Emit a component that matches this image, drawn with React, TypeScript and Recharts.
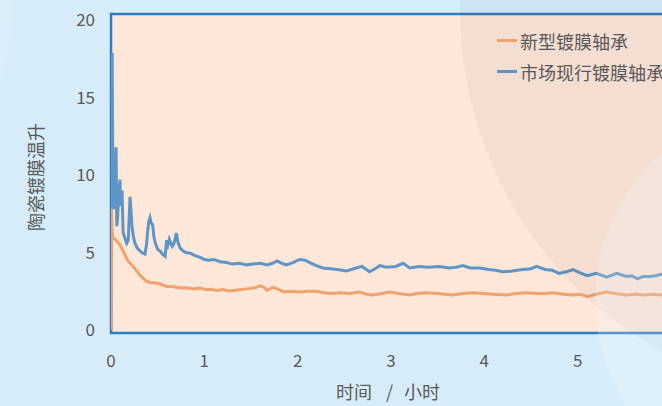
import { LineChart, Line, XAxis, YAxis, ReferenceArea } from 'recharts'

// time in hours, temperature rise per bearing
const seriesNames = ['新型镀膜轴承', '市场现行镀膜轴承']
const seriesColors = ['#f2a26c', '#5f95c6']

const newTime = [
  0, 0.006, 0.012, 0.02, 0.03, 0.043, 0.06, 0.075, 0.096, 0.11, 0.13, 0.15, 0.168, 0.19, 0.22, 0.25,
  0.275, 0.31, 0.35, 0.38, 0.42, 0.46, 0.51, 0.55, 0.6, 0.65, 0.7, 0.75, 0.81, 0.88, 0.95, 1.02,
  1.08, 1.13, 1.2, 1.26, 1.31, 1.38, 1.45, 1.53, 1.6, 1.64, 1.67, 1.7, 1.74, 1.8, 1.85, 1.93, 2.02,
  2.1, 2.2, 2.28, 2.38, 2.45, 2.56, 2.66, 2.74, 2.8, 2.9, 2.98, 3.08, 3.2, 3.28, 3.38, 3.5, 3.58,
  3.66, 3.77, 3.88, 3.98, 4.1, 4.23, 4.34, 4.45, 4.56, 4.65, 4.73, 4.85, 4.95, 5.03, 5.1, 5.2, 5.31,
  5.4, 5.52, 5.62, 5.72, 5.82, 5.9, 6.0,
]
const newTemp = [
  0, 7.8, 6.4, 6.0, 5.9, 5.85, 5.75, 5.65, 5.5, 5.3, 5.1, 4.85, 4.6, 4.4, 4.2, 4.0,
  3.8, 3.55, 3.3, 3.15, 3.05, 3.05, 3.0, 2.9, 2.8, 2.8, 2.75, 2.7, 2.72, 2.65, 2.7, 2.6,
  2.62, 2.55, 2.6, 2.52, 2.55, 2.6, 2.65, 2.7, 2.85, 2.75, 2.55, 2.65, 2.75, 2.6, 2.45, 2.5, 2.45,
  2.5, 2.5, 2.4, 2.35, 2.4, 2.35, 2.45, 2.3, 2.25, 2.35, 2.45, 2.35, 2.25, 2.35, 2.4, 2.35, 2.3,
  2.25, 2.35, 2.4, 2.35, 2.3, 2.25, 2.35, 2.4, 2.35, 2.35, 2.4, 2.3, 2.25, 2.3, 2.15, 2.3, 2.45,
  2.35, 2.25, 2.3, 2.25, 2.3, 2.25, 2.3,
]

const oldTime = [
  0, 0.004, 0.008, 0.012, 0.018, 0.024, 0.03, 0.036, 0.045, 0.054, 0.062, 0.07, 0.08, 0.096, 0.105,
  0.118, 0.13, 0.145, 0.168, 0.185, 0.204, 0.215, 0.225, 0.24, 0.257, 0.28, 0.31, 0.34, 0.364, 0.38,
  0.395, 0.405, 0.418, 0.43, 0.446, 0.46, 0.475, 0.5, 0.525, 0.55, 0.58, 0.596, 0.61, 0.625, 0.64,
  0.655, 0.668, 0.685, 0.7, 0.72, 0.74, 0.77, 0.8, 0.85, 0.9, 0.95, 1.0, 1.05, 1.1, 1.17, 1.24, 1.3,
  1.38, 1.45, 1.52, 1.6, 1.67, 1.73, 1.78, 1.83, 1.88, 1.95, 2.02, 2.08, 2.13, 2.2, 2.27, 2.35, 2.42,
  2.48, 2.52, 2.6, 2.69, 2.77, 2.83, 2.88, 2.95, 3.05, 3.13, 3.2, 3.3, 3.4, 3.52, 3.62, 3.7, 3.77,
  3.85, 3.95, 4.05, 4.12, 4.2, 4.3, 4.41, 4.5, 4.56, 4.65, 4.73, 4.8, 4.88, 4.95, 5.02, 5.1, 5.2,
  5.31, 5.42, 5.52, 5.58, 5.64, 5.7, 5.77, 5.84, 5.9, 6.0,
]
const oldTemp = [
  0, 8.0, 14, 17.9, 12, 8.0, 9.5, 7.8, 10.0, 11.8, 6.7, 7.2, 8.5, 9.7, 8.0,
  9.0, 6.3, 6.0, 5.6, 5.8, 8.6, 7.6, 6.7, 6.0, 5.6, 5.3, 5.1, 4.95, 4.9, 5.5,
  6.5, 7.0, 7.25, 6.9, 6.8, 6.0, 5.6, 5.2, 5.1, 4.9, 4.75, 5.8, 5.5, 5.85, 5.6,
  5.4, 5.5, 5.8, 6.25, 5.6, 5.3, 5.1, 5.0, 4.95, 4.8, 4.7, 4.55, 4.5, 4.55, 4.4, 4.35, 4.25,
  4.3, 4.2, 4.25, 4.3, 4.2, 4.3, 4.45, 4.3, 4.2, 4.35, 4.55, 4.5, 4.35, 4.15, 4.0, 3.95, 3.9,
  3.85, 3.8, 3.95, 4.1, 3.75, 3.95, 4.15, 4.05, 4.1, 4.3, 4.0, 4.1, 4.05, 4.1, 4.0, 4.05, 4.15,
  4.0, 4.0, 3.9, 3.85, 3.75, 3.8, 3.9, 3.95, 4.1, 3.9, 3.85, 3.65, 3.75, 3.9, 3.7, 3.5, 3.65,
  3.4, 3.65, 3.45, 3.5, 3.3, 3.45, 3.45, 3.5, 3.6, 3.65,
]

const xTicks = [0, 1, 2, 3, 4, 5]
const yTicks = [0, 5, 10, 15, 20]

const newData = newTime.map((t, i) => ({ t, v: newTemp[i] }))
const oldData = oldTime.map((t, i) => ({ t, v: oldTemp[i] }))

const font = '"Noto Sans CJK SC", "Noto Sans", sans-serif'
const textColor = '#595959'

function LegendBox() {
  return (
    <div
      style={{
        position: 'absolute',
        left: 497,
        top: 25,
        fontFamily: font,
        fontSize: 18,
        color: textColor,
        whiteSpace: 'nowrap',
      }}
    >
      {seriesNames.map((name, i) => (
        <div key={name} style={{ display: 'flex', alignItems: 'center', height: 31 }}>
          <span style={{ display: 'inline-block', width: 20, height: 3, background: seriesColors[i], marginRight: 3 }} />
          <span>{name}</span>
        </div>
      ))}
    </div>
  )
}

export default function App() {
  return (
    <div
      style={{
        position: 'absolute',
        left: 0,
        top: 0,
        width: 662,
        height: 406,
        overflow: 'hidden',
        background: '#d6edf9',
      }}
    >
      <LineChart width={720} height={406} margin={{ top: 14, right: 49, bottom: 0, left: 0 }}>
        <XAxis
          dataKey="t"
          type="number"
          domain={[0, 6]}
          ticks={xTicks}
          allowDataOverflow
          axisLine={false}
          tickLine={false}
          tickSize={0}
          tickMargin={22}
          height={73}
          tick={{ fill: textColor, fontSize: 17, fontFamily: font }}
          label={{
            content: () => (
              <text x={336} y={399} fill={textColor} fontSize={18} fontFamily={font}>
                <tspan>时间</tspan>
                <tspan dx={14}>/</tspan>
                <tspan dx={11}>小时</tspan>
              </text>
            ),
          }}
        />
        <YAxis
          type="number"
          domain={[-0.2, 20.4]}
          ticks={yTicks}
          allowDataOverflow
          axisLine={false}
          tickLine={false}
          tickSize={0}
          tickMargin={16}
          width={111}
          tick={{ fill: textColor, fontSize: 17, fontFamily: font }}
          label={{
            content: () => (
              <text
                x={35}
                y={177}
                transform="rotate(-90 35 177)"
                textAnchor="middle"
                dominantBaseline="central"
                fill={textColor}
                fontSize={18}
                fontFamily={font}
              >
                陶瓷镀膜温升
              </text>
            ),
          }}
        />
        <ReferenceArea
          x1={0}
          x2={6}
          y1={-0.2}
          y2={20.4}
          fill="#fce7d9"
          fillOpacity={1}
          stroke="#2e7dc0"
          strokeWidth={2.5}
        />
        <Line
          data={oldData}
          dataKey="v"
          name={seriesNames[1]}
          stroke={seriesColors[1]}
          strokeWidth={3}
          dot={false}
          isAnimationActive={false}
        />
        <Line
          data={newData}
          dataKey="v"
          name={seriesNames[0]}
          stroke={seriesColors[0]}
          strokeWidth={3}
          dot={false}
          isAnimationActive={false}
        />
      </LineChart>
      {/* background decoration: soft circles */}
      <svg
        width={662}
        height={406}
        style={{ position: 'absolute', left: 0, top: 0, pointerEvents: 'none' }}
      >
        <circle cx={850} cy={10} r={390} fill="rgba(0,0,0,0.035)" />
        <circle cx={790} cy={300} r={195} fill="rgba(255,255,255,0.2)" />
        <circle cx={-200} cy={10} r={212} fill="rgba(255,255,255,0.08)" />
      </svg>
      <LegendBox />
    </div>
  )
}
